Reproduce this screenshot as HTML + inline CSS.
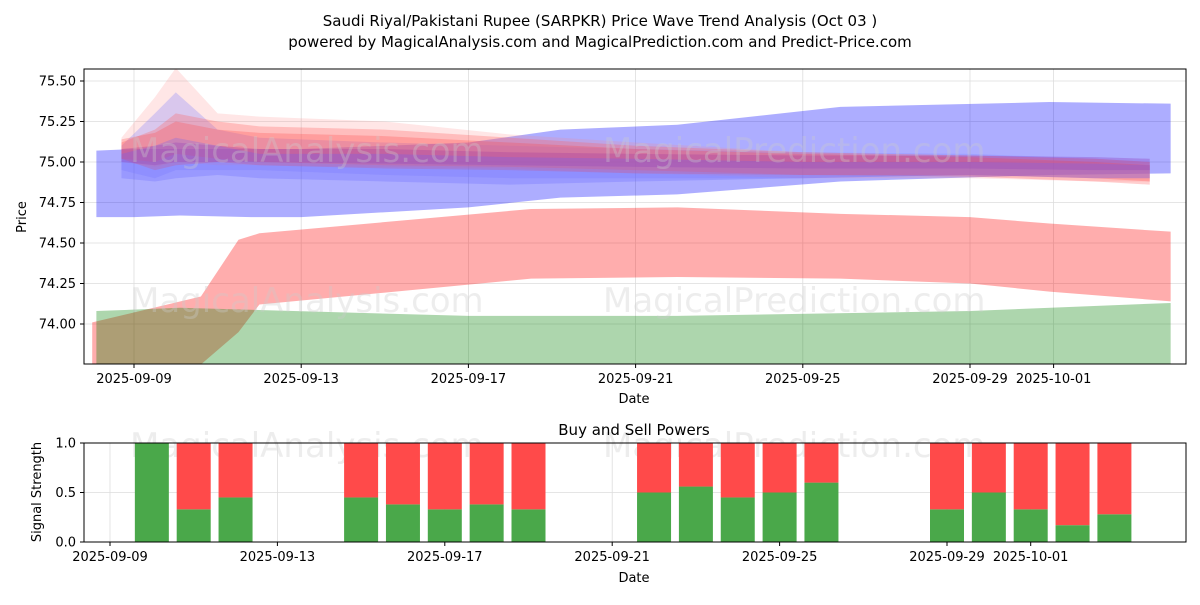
<!DOCTYPE html>
<html><head><meta charset="utf-8"><style>
body{margin:0;background:#fff;font-family:"Liberation Sans","DejaVu Sans",sans-serif}
svg text{font-family:"DejaVu Sans","Liberation Sans",sans-serif}
</style></head><body>
<svg id="c" width="1200" height="600" viewBox="0 0 1200 600">
<rect width="1200" height="600" fill="#fff"/>
<text x="600" y="26" text-anchor="middle" font-size="15">Saudi Riyal/Pakistani Rupee (SARPKR) Price Wave Trend Analysis (Oct 03 )</text>
<text x="600" y="47" text-anchor="middle" font-size="15">powered by MagicalAnalysis.com and MagicalPrediction.com and Predict-Price.com</text>
<defs><clipPath id="cp"><rect x="84" y="69" width="1102" height="295"/></clipPath></defs>
<g id="grid1"></g>
<g id="bands" clip-path="url(#cp)"></g>
<g font-size="34" fill="#ccc" opacity="0.35">
<text x="130" y="162">MagicalAnalysis.com</text><text x="603" y="162">MagicalPrediction.com</text>
<text x="130" y="312">MagicalAnalysis.com</text><text x="603" y="312">MagicalPrediction.com</text>
<text x="130" y="457">MagicalAnalysis.com</text><text x="603" y="457">MagicalPrediction.com</text>
</g>
<rect x="84" y="69" width="1102" height="295" fill="none" stroke="#000"/>
<g id="ax1"></g>
<text x="634" y="403" text-anchor="middle" font-size="13">Date</text>
<text x="26" y="217" text-anchor="middle" font-size="13" transform="rotate(-90 26 217)">Price</text>
<text x="634" y="435" text-anchor="middle" font-size="15">Buy and Sell Powers</text>
<g id="grid2"></g>
<g id="bars"></g>
<rect x="84" y="443" width="1102" height="99" fill="none" stroke="#000"/>
<g id="ax2"></g>
<text x="634" y="582" text-anchor="middle" font-size="13">Date</text>
<text x="41" y="492" text-anchor="middle" font-size="13" transform="rotate(-90 41 492)">Signal Strength</text>
</svg>
<script>
const NS="http://www.w3.org/2000/svg";
const yTicks=[74.00,74.25,74.50,74.75,75.00,75.25,75.50];
const xTickLabels=["2025-09-09","2025-09-13","2025-09-17","2025-09-21","2025-09-25","2025-09-29","2025-10-01"];
const xTickDays=[0,4,8,12,16,20,22];
// bands: days, upper, lower
const blueDays=[-0.9,0,1.1,2.8,4,8,10.2,13,16.9,21.9,24.8];
const blueUp=[75.07,75.08,75.08,75.08,75.08,75.12,75.2,75.23,75.34,75.37,75.36];
const blueLo=[74.66,74.66,74.67,74.66,74.66,74.72,74.78,74.8,74.88,74.92,74.93];
const redDays=[-1,1.6,2.5,3,9.5,13,16.9,20,21.9,24.8];
const redUp=[74.01,74.17,74.52,74.56,74.71,74.72,74.68,74.66,74.62,74.57];
const redLo=[73.55,73.75,73.95,74.12,74.28,74.29,74.28,74.25,74.2,74.14];
const greenDays=[-0.9,1.1,8,13,20,24.8];
const greenUp=[74.08,74.1,74.05,74.05,74.08,74.13];
const greenLo=[73.5,73.5,73.5,73.5,73.5,73.5];
const waveDays=[-0.3,0.5,1,2,3,6,9,12,16,20,23,24.3];
const waves=[
 {c:"#ff8080",o:0.2,up:[75.15,75.4,75.58,75.3,75.28,75.25,75.17,75.12,75.06,75.04,75.02,75.0],lo:[75.0,74.97,75.0,74.98,74.98,74.97,74.96,74.93,74.9,74.9,74.88,74.88]},
 {c:"#8080ff",o:0.3,up:[75.1,75.3,75.43,75.2,75.15,75.12,75.1,75.08,75.06,75.05,75.02,75.0],lo:[74.95,74.9,74.95,74.95,74.95,74.92,74.9,74.9,74.9,74.92,74.9,74.9]},
 {c:"#ff6060",o:0.3,up:[75.12,75.2,75.3,75.25,75.22,75.2,75.15,75.1,75.06,75.04,75.02,75.0],lo:[75.02,75.0,75.05,75.02,75.0,74.98,74.97,74.95,74.92,74.92,74.9,74.88]},
 {c:"#9040c0",o:0.35,up:[75.08,75.1,75.12,75.1,75.08,75.08,75.06,75.05,75.04,75.04,75.03,75.02],lo:[75.0,74.98,75.0,75.0,75.0,74.99,74.98,74.97,74.96,74.96,74.95,74.95]},
 {c:"#ff4040",o:0.25,up:[75.14,75.18,75.25,75.2,75.18,75.16,75.12,75.08,75.05,75.03,75.0,74.98],lo:[75.02,74.95,74.98,75.0,74.98,74.96,74.95,74.93,74.92,74.91,74.88,74.86]},
 {c:"#6060ff",o:0.25,up:[75.05,75.1,75.15,75.1,75.05,75.05,75.03,75.02,75.0,75.0,74.99,74.98],lo:[74.9,74.88,74.9,74.92,74.9,74.88,74.86,74.88,74.9,74.92,74.9,74.9]}
];
const barDays=[1,2,3,6,7,8,9,10,13,14,15,16,17,20,21,22,23,24];
const buyVals=[1.0,0.33,0.45,0.45,0.38,0.33,0.38,0.33,0.5,0.56,0.45,0.5,0.6,0.33,0.5,0.33,0.17,0.28];
const sigTicks=[0.0,0.5,1.0];

const X=d=>134+d*41.8, Y=v=>162-(v-75)*162;
const X2=d=>110+d*41.85, Y2=v=>542-v*99;
function el(t,a,p){const e=document.createElementNS(NS,t);for(const k in a)e.setAttribute(k,a[k]);document.getElementById(p).appendChild(e);return e;}
function band(days,up,lo,color,op,name){
 let pts=days.map((d,i)=>X(d)+","+Y(up[i]));
 for(let i=days.length-1;i>=0;i--)pts.push(X(days[i])+","+Y(lo[i]));
 const p=el("polygon",{points:pts.join(" "),fill:color,"fill-opacity":op},"bands");
 
 
}
yTicks.forEach(v=>{
 const l=el("line",{x1:84,x2:1186,y1:Y(v),y2:Y(v),stroke:"#ddd","stroke-width":0.8},"grid1");
 
 
 el("line",{x1:80,x2:84,y1:Y(v),y2:Y(v),stroke:"#000"},"ax1");
 const t=el("text",{x:76,y:Y(v)+4.5,"text-anchor":"end","font-size":13},"ax1");t.textContent=v.toFixed(2);
 
 
});
xTickDays.forEach((d,i)=>{
 const l=el("line",{x1:X(d),x2:X(d),y1:69,y2:364,stroke:"#ddd","stroke-width":0.8},"grid1");
 
 
 el("line",{x1:X(d),x2:X(d),y1:364,y2:368,stroke:"#000"},"ax1");
 const t=el("text",{x:X(d),y:383,"text-anchor":"middle","font-size":13},"ax1");t.textContent=xTickLabels[i];
 
 
 const l2=el("line",{x1:X2(d),x2:X2(d),y1:443,y2:542,stroke:"#ddd","stroke-width":0.8},"grid2");
 
 
 el("line",{x1:X2(d),x2:X2(d),y1:542,y2:546,stroke:"#000"},"ax2");
 const t2=el("text",{x:X2(d),y:561,"text-anchor":"middle","font-size":13},"ax2");t2.textContent=xTickLabels[i];
 
 
});
band(blueDays,blueUp,blueLo,"#0000ff",0.32,"blue-band");
band(redDays,redUp,redLo,"#ff0000",0.32,"red-band");
band(greenDays,greenUp,greenLo,"#008000",0.32,"green-band");
waves.forEach((w,i)=>band(waveDays,w.up,w.lo,w.c,w.o,"wave-band-"+i));
sigTicks.forEach(v=>{
 const l=el("line",{x1:84,x2:1186,y1:Y2(v),y2:Y2(v),stroke:"#ddd","stroke-width":0.8},"grid2");
 
 
 el("line",{x1:80,x2:84,y1:Y2(v),y2:Y2(v),stroke:"#000"},"ax2");
 const t=el("text",{x:76,y:Y2(v)+4.5,"text-anchor":"end","font-size":13},"ax2");t.textContent=v.toFixed(1);
 
 
});
barDays.forEach((d,i)=>{
 const g=el("rect",{x:X2(d)-17,y:Y2(buyVals[i]),width:34,height:Y2(0)-Y2(buyVals[i]),fill:"#4aa84a"},"bars");
 
 
 const r=el("rect",{x:X2(d)-17,y:Y2(1),width:34,height:Y2(buyVals[i])-Y2(1),fill:"#ff4a4a"},"bars");
 
 
});
</script>
</body></html>
